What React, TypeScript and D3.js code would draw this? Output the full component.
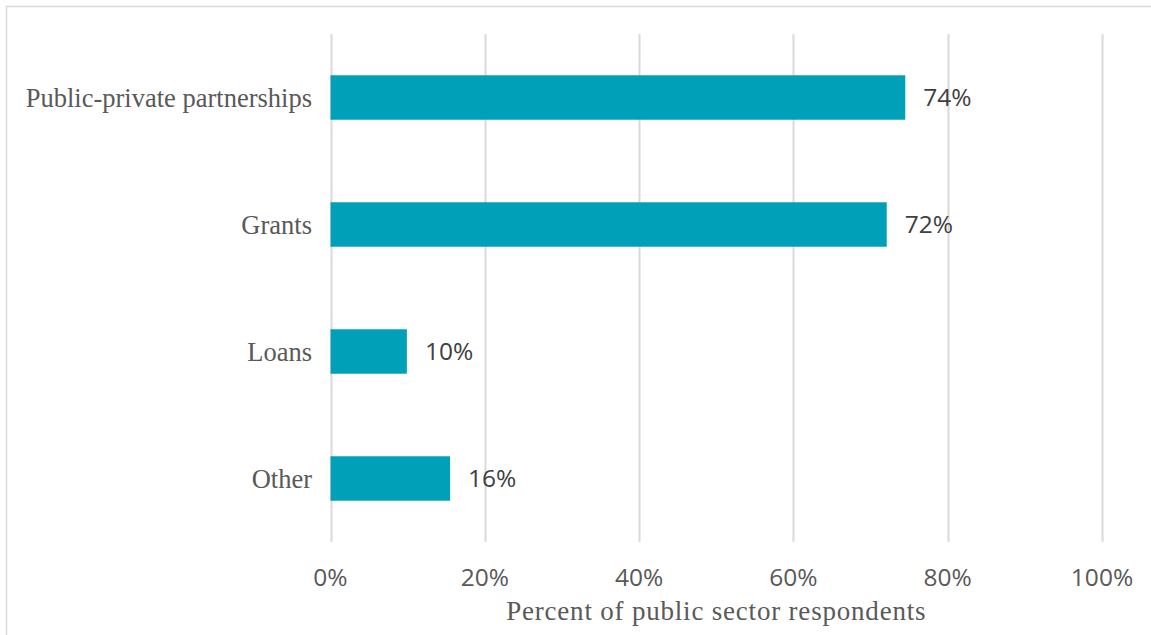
import React from "react";
import * as d3 from "d3";

const categories = ["Public-private partnerships", "Grants", "Loans", "Other"];
const values = [0.745, 0.721, 0.099, 0.155];
const valueLabels = ["74%", "72%", "10%", "16%"];
const ticks = [0, 0.2, 0.4, 0.6, 0.8, 1.0];
const axisTitle = "Percent of public sector respondents";

const W = 1151;
const H = 635;

export default function App() {
  const x = d3.scaleLinear().domain([0, 1]).range([330.5, 1102]);
  const y = d3
    .scaleBand<string>()
    .domain(categories)
    .range([34, 542])
    .paddingInner(0.65)
    .paddingOuter(0.325);
  const fmt = d3.format(".0%");
  const sans = "'Open Sans', 'Liberation Sans', sans-serif";
  const serif = "'Liberation Serif', 'DejaVu Serif', serif";

  return (
    <svg
      width={W}
      height={H}
      style={{ position: "fixed", left: 0, top: 0, background: "#fff" }}
    >
      <rect x={6.5} y={6.5} width={1160} height={660} fill="#fff" stroke="#d9d9d9" strokeWidth={1.5} />
      {ticks.map((t) => (
        <line
          key={t}
          x1={Math.round(x(t)) + 0.5}
          x2={Math.round(x(t)) + 0.5}
          y1={34}
          y2={542}
          stroke="#d9d9d9"
          strokeWidth={2}
        />
      ))}
      {categories.map((c, i) => (
        <g key={c}>
          <rect
            x={x(0)}
            y={y(c)!}
            width={x(values[i]) - x(0)}
            height={y.bandwidth()}
            fill="#00A0B8"
          />
          <text
            x={x(values[i]) + 18}
            y={y(c)! + y.bandwidth() / 2}
            dy="0.35em"
            fontFamily={sans}
            fontSize={24.5}
            fill="#404040"
          >
            {valueLabels[i]}
          </text>
          <text
            x={312}
            y={y(c)! + y.bandwidth() / 2}
            dy="0.35em"
            textAnchor="end"
            fontFamily={serif}
            fontSize={26.5}
            fill="#595959"
          >
            {c}
          </text>
        </g>
      ))}
      {ticks.map((t) => (
        <text
          key={"l" + t}
          x={x(t)}
          y={577}
          dy="0.35em"
          textAnchor="middle"
          fontFamily={sans}
          fontSize={24.5}
          fill="#595959"
        >
          {fmt(t)}
        </text>
      ))}
      <text
        x={(x(0) + x(1)) / 2}
        y={611}
        dy="0.35em"
        textAnchor="middle"
        fontFamily={serif}
        fontSize={27}
        letterSpacing={0.8}
        fill="#595959"
      >
        {axisTitle}
      </text>
    </svg>
  );
}
